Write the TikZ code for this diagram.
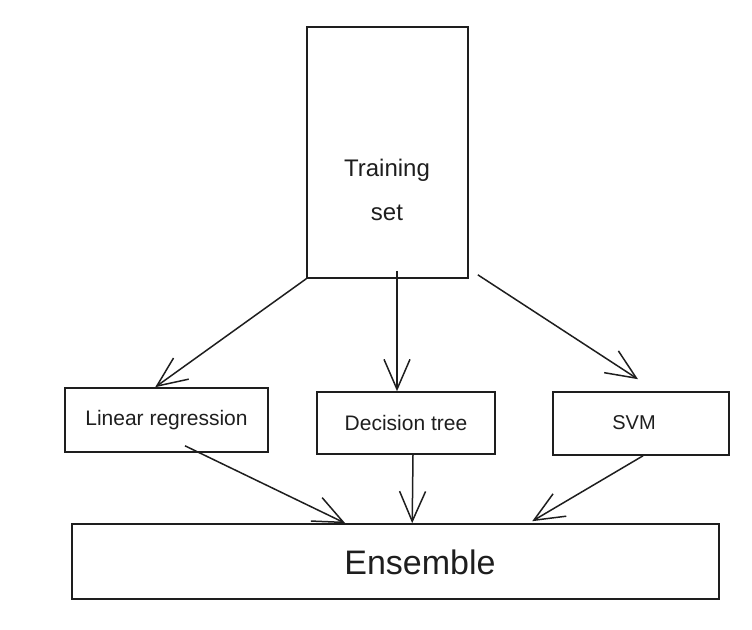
\documentclass[tikz,border=0pt]{standalone}
\usepackage{fontspec}
\setmainfont{Liberation Sans}
\usetikzlibrary{arrows.meta}
\definecolor{ink}{HTML}{1E1E1E}
\tikzset{
  box/.style={draw=ink, line width=1.6pt, rectangle, inner sep=0pt, anchor=center},
  lbl/.style={text=ink, font=\fontsize{21}{25}\selectfont},
  conn/.style={draw=ink, line width=1.5pt, -{Straight Barb[length=30pt,width=26pt,line width=1.5pt]}}
}
\begin{document}
\begin{tikzpicture}[x=1pt,y=-1pt]
\useasboundingbox (0,0) rectangle (752,629);
% boxes
\node[box, minimum width=161pt, minimum height=251pt] (ts) at (387.5,152.5) {};
\node[text=ink, align=center, font=\fontsize{24}{44}\selectfont] (tstext) at (387,190) {Training\\set};
\node[box, lbl, minimum width=203pt, minimum height=64pt] (lr) at (166.5,420) {Linear regression};
\node[box, lbl, minimum width=178pt, minimum height=62pt] (dt) at (406,423) {Decision tree};
\node[box, minimum width=176pt, minimum height=63pt] (svm) at (641,423.5) {};
\node[lbl, font=\fontsize{20}{24}\selectfont] (svmtext) at (634,423) {SVM};
\node[box, minimum width=647pt, minimum height=75pt] (ens) at (395.5,561.5) {};
\node[text=ink, font=\fontsize{34}{40}\selectfont] (enstext) at (420,562) {Ensemble};
% connectors
\draw[conn] (ts.south west) -- ([xshift=91pt]lr.north west);
\draw[conn] ([xshift=9.5pt,yshift=8pt]ts.south) -- ([xshift=-9pt]dt.north);
\draw[conn] ([xshift=9pt,yshift=4pt]ts.south east) -- ([xshift=-3pt,yshift=12pt]svm.north);
\draw[conn] ([xshift=18.5pt,yshift=7pt]lr.south) -- ([xshift=274pt]ens.north west);
\draw[conn] ([xshift=7pt]dt.south) -- ([xshift=341pt]ens.north west);
\draw[conn] ([xshift=2pt]svm.south) -- ([xshift=461pt,yshift=2pt]ens.north west);
\end{tikzpicture}
\end{document}
